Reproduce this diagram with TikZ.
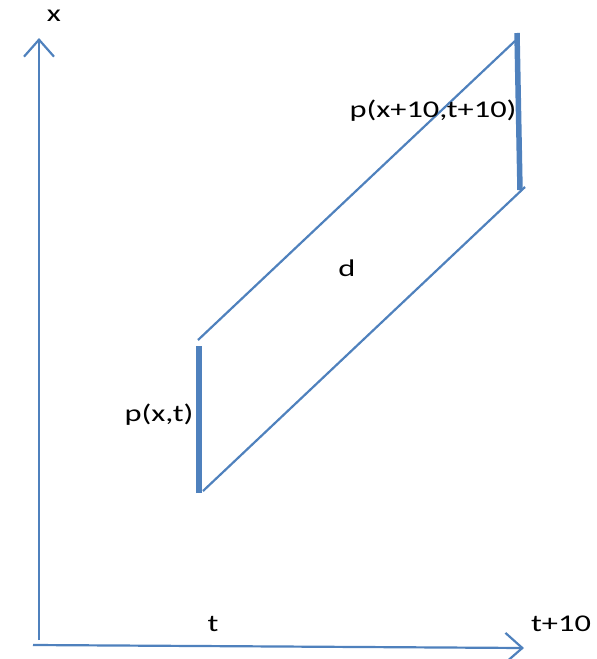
\documentclass[tikz,border=0pt]{standalone}
\usepackage{fontspec}
\setmainfont{Carlito}
\usetikzlibrary{arrows.meta}
\definecolor{lineblue}{RGB}{79,129,189}
\newcommand{\widetext}[1]{\scalebox{1.35}[1]{#1}}

\begin{document}
\begin{tikzpicture}[x=1pt, y=-1pt,
    axis/.style={line width=2.2pt, lineblue,
      -{Straight Barb[length=17pt, width=30pt, line width=2.2pt]}},
    thin/.style={line width=2.2pt, lineblue},
    bar/.style={line width=5.5pt, lineblue},
    lbl/.style={font=\fontsize{24}{28}\selectfont, inner sep=0pt, text=black}
  ]
    \useasboundingbox (0,0) rectangle (597,659);

    % axes
    \coordinate (orig) at (33,645);
    \coordinate (xbot) at (39,640);
    \coordinate (xtop) at (39,38);
    \coordinate (tend) at (524,648);
    \draw[axis] (xbot) -- (xtop);
    \draw[axis] (orig) -- (tend);

    % segment ends
    \coordinate (pbot) at (199,493);
    \coordinate (ptop) at (199,346);
    \coordinate (qtop) at (517,33);
    \coordinate (qbot) at (520,190);
    \coordinate (ua) at (198,340);
    \coordinate (ub) at (515,41);
    \coordinate (la) at (203,491);
    \coordinate (lb) at (525,187);

    \draw[bar] (pbot) -- (ptop);
    \draw[bar] (qtop) -- (qbot);
    \draw[thin] (ua) -- (ub);
    \draw[thin] (la) -- (lb);

    % labels
    \node[lbl] (xlab) at (54,16) {\widetext{x}};
    \node[lbl] (tlab) at (213,624) {\widetext{t}};
    \node[lbl] (t10lab) at (561,624) {\widetext{t+10}};
    \node[lbl] (dlab) at (347,268) {\widetext{d}};
    \node[lbl] (plab) at (159,415) {\widetext{p(x,t)}};
    \node[lbl] (qlab) at (433,111) {\widetext{p(x+10,t+10)}};
\end{tikzpicture}
\end{document}
